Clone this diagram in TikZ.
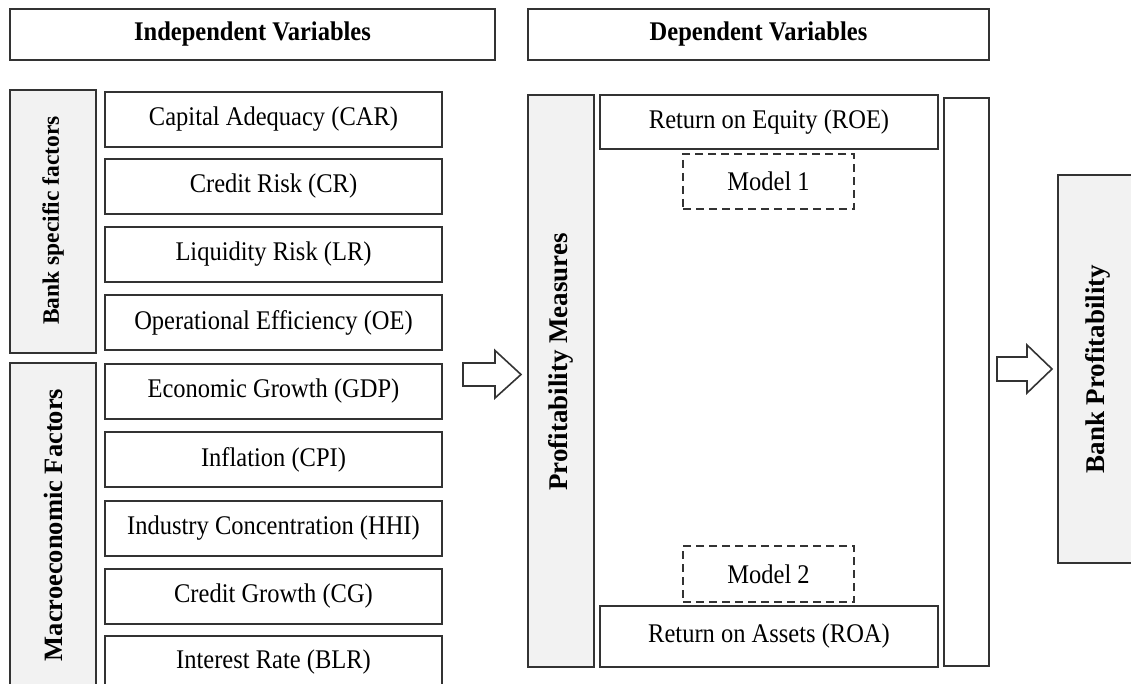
\documentclass[tikz,border=0pt]{standalone}
\usepackage{fontspec}
\usepackage{graphicx}
\setmainfont{Liberation Serif}
\definecolor{edge}{HTML}{333333}
\definecolor{panel}{HTML}{F2F2F2}
\newcommand{\tx}[1]{\scalebox{1}[1.1]{#1}}
\begin{document}
\begin{tikzpicture}[x=1pt,y=-1pt,
  base/.style={draw=edge,line width=1.6pt,inner sep=0pt,outer sep=0pt,
    font=\fontsize{24.5}{29}\selectfont,text=black},
  varbox/.style={base,fill=white,minimum width=337pt,minimum height=55pt},
  headbox/.style={base,fill=white,minimum height=51pt,font=\fontsize{24.5}{29}\selectfont\bfseries},
  graybox/.style={base,fill=panel},
  vlabel/.style={rotate=90,inner sep=0pt},
  modelbox/.style={base,fill=white,dash pattern=on 8pt off 5pt,minimum width=171pt},
  blockarrow/.style={draw=edge,line width=1.6pt,fill=white,line join=miter}]
\useasboundingbox (0,0) rectangle (1131,684);
\clip (0,0) rectangle (1131,684);
\fill[white] (0,0) rectangle (1131,684);

% headers
\node[headbox,minimum width=485pt] (indep) at (252.5,34.5) {\tx{Independent Variables}};
\node[headbox,minimum width=461pt] (dep) at (758.5,34.5) {\tx{Dependent Variables}};

% group panels
\node[graybox,minimum width=86pt,minimum height=263pt] (bsf) at (53,221.5) {};
\node[vlabel,font=\fontsize{23.5}{28}\selectfont\bfseries] (bsflabel) at (53,220.5) {Bank specific factors};
\node[graybox,minimum width=86pt,minimum height=337pt] (macro) at (53,531.5) {};
\node[vlabel,font=\fontsize{26.5}{31}\selectfont\bfseries] (macrolabel) at (53,525) {Macroeconomic Factors};

% variable boxes
\node[varbox] (car) at (273.5,119.5) {\tx{Capital Adequacy (CAR)}};
\node[varbox] (cr)  at (273.5,186.5) {\tx{Credit Risk (CR)}};
\node[varbox] (lr)  at (273.5,254.5) {\tx{Liquidity Risk (LR)}};
\node[varbox] (oe)  at (273.5,322.5) {\tx{Operational Efficiency (OE)}};
\node[varbox] (gdp) at (273.5,391.5) {\tx{Economic Growth (GDP)}};
\node[varbox] (cpi) at (273.5,459.5) {\tx{Inflation (CPI)}};
\node[varbox] (hhi) at (273.5,528.5) {\tx{Industry Concentration (HHI)}};
\node[varbox] (cg)  at (273.5,596.5) {\tx{Credit Growth (CG)}};
\node[varbox,minimum height=64pt] (blr) at (273.5,668) {};
\node[font=\fontsize{24.5}{29}\selectfont,inner sep=0pt] (blrtext) at (273.5,662) {\tx{Interest Rate (BLR)}};

% dependent side
\node[graybox,minimum width=66pt,minimum height=572pt] (pm) at (561,381) {};
\node[vlabel,font=\fontsize{27}{32}\selectfont\bfseries] (pmlabel) at (561,362) {Profitability Measures};
\node[base,fill=white,minimum width=338pt,minimum height=54pt] (roe) at (769,122) {\tx{Return on Equity (ROE)}};
\node[modelbox,minimum height=55pt] (m1) at (768.5,181.5) {\tx{Model 1}};
\node[modelbox,minimum height=56pt] (m2) at (768.5,574) {\tx{Model 2}};
\node[base,fill=white,minimum width=338pt,minimum height=61pt] (roa) at (769,636.5) {\tx{Return on Assets (ROA)}};
\node[base,fill=white,minimum width=45pt,minimum height=568pt] (tall) at (966.5,382) {};

% outcome
\node[graybox,minimum width=80pt,minimum height=388pt] (bp) at (1098,369) {};
\node[vlabel,font=\fontsize{27}{32}\selectfont\bfseries] (bplabel) at (1098,369) {Bank Profitability};

% block arrows
\coordinate (a1) at (463,374.5);
\draw[blockarrow] (a1) ++(0,-11.5) -- ++(32,0) -- ++(0,-12.5) -- (521,374.5)
  -- (495,398) -- ++(0,-12) -- ++(-32,0) -- cycle;
\coordinate (a2) at (997,369);
\draw[blockarrow] (a2) ++(0,-12) -- ++(30,0) -- ++(0,-12) -- (1052,369)
  -- (1027,393) -- ++(0,-12) -- ++(-30,0) -- cycle;
\end{tikzpicture}
\end{document}
